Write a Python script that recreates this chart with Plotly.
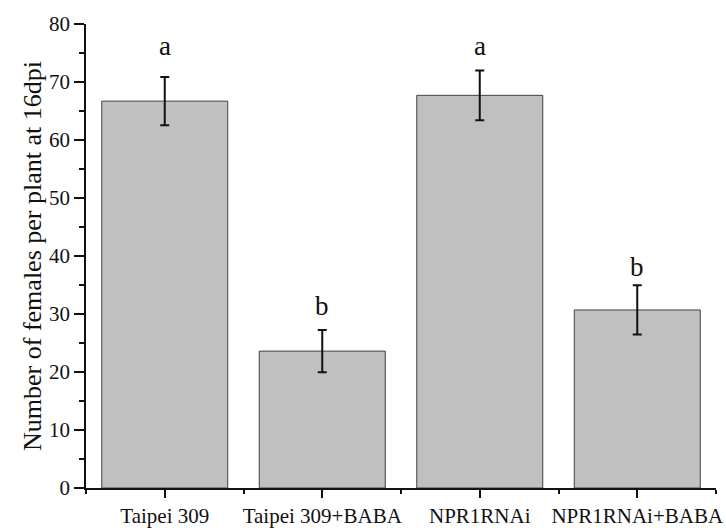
import plotly.graph_objects as go

categories = ["Taipei 309", "Taipei 309+BABA", "NPR1RNAi", "NPR1RNAi+BABA"]
means = [66.7, 23.6, 67.7, 30.7]
errors = [4.15, 3.65, 4.3, 4.25]
sig_letters = ["a", "b", "a", "b"]
sig_label_y = [76.2, 31.4, 76.2, 38.1]
y_ticks = [0, 10, 20, 30, 40, 50, 60, 70, 80]

FONT = "Liberation Serif, Times New Roman, serif"
xpos = list(range(len(categories)))

fig = go.Figure()
fig.add_trace(go.Bar(
    x=xpos, y=means, width=0.8,
    marker=dict(color="#c0c0c0", line=dict(color="#404040", width=1)),
    error_y=dict(type="data", array=errors, visible=True,
                 color="#111111", thickness=2, width=4.5),
    showlegend=False,
))

for x, lab, ly in zip(xpos, sig_letters, sig_label_y):
    fig.add_annotation(x=x, y=ly, text=lab, showarrow=False,
                       xanchor="center", yanchor="middle",
                       font=dict(family=FONT, size=27, color="#111111"))

fig.update_layout(
    width=726, height=528,
    margin=dict(l=86, r=10, t=24, b=40),
    paper_bgcolor="white", plot_bgcolor="white",
    font=dict(family=FONT, color="#111111"),
    bargap=0.2,
)
fig.update_xaxes(
    range=[-0.5, 3.5], tickmode="array", tickvals=xpos, ticktext=categories,
    showline=True, linecolor="#111111", linewidth=1.5,
    ticks="outside", ticklen=8, tickwidth=1.5, tickcolor="#111111",
    tickfont=dict(family=FONT, size=21, color="#111111"),
    ticklabeloverflow="allow", automargin=False,
    showgrid=False, zeroline=False,
    minor=dict(tickmode="array", tickvals=[-0.5, 0.5, 1.5, 2.5, 3.5],
               ticks="outside", ticklen=4, tickwidth=1.5, tickcolor="#111111",
               showgrid=False),
)
fig.update_yaxes(
    range=[0, 80], tickmode="array", tickvals=y_ticks,
    showline=True, linecolor="#111111", linewidth=1.5,
    ticks="outside", ticklen=10, tickwidth=1.5, tickcolor="#111111",
    tickfont=dict(family=FONT, size=21, color="#111111"),
    automargin=False,
    showgrid=False, zeroline=False,
    minor=dict(dtick=5, tick0=0, ticks="outside", ticklen=5, tickwidth=1.5,
               tickcolor="#111111", showgrid=False),
    title=dict(text="Number of females per plant at 16dpi",
               font=dict(family=FONT, size=26, color="#111111"), standoff=0),
)

fig.write_html("out.html")
